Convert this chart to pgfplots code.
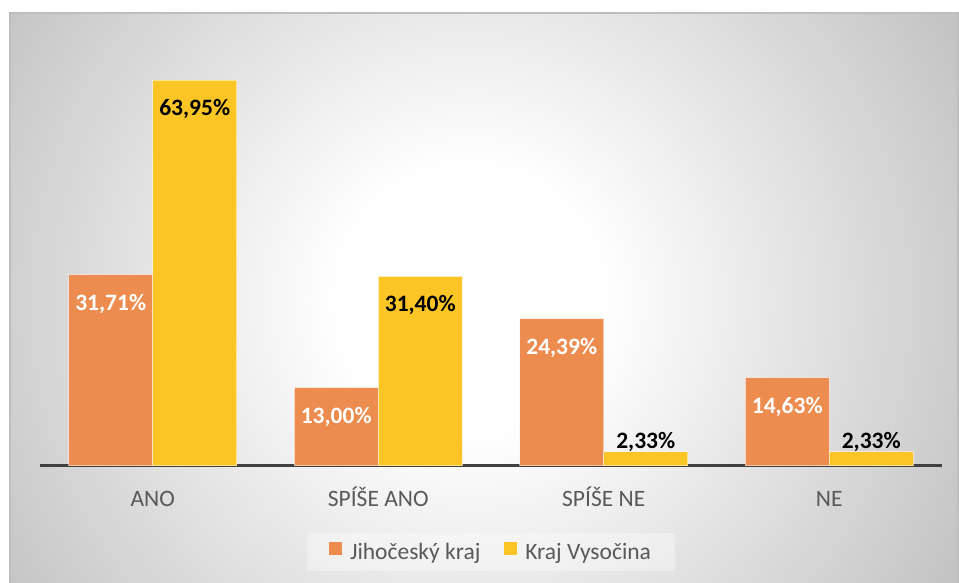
\documentclass[border=0pt]{standalone}
\usepackage{fontspec}
\setmainfont{Carlito}
\usepackage{pgfplots}
\usepackage{pgfplotstable}
\pgfplotsset{compat=1.18}

\definecolor{jcorange}{RGB}{236,140,79}
\definecolor{vysyellow}{RGB}{251,197,38}
\definecolor{txtgray}{RGB}{89,89,89}
\definecolor{axisgray}{RGB}{64,64,64}
\definecolor{bgedge}{RGB}{196,196,196}
\definecolor{bordergray}{RGB}{190,190,190}
\pgfdeclareradialshading{chartbg}{\pgfpoint{0bp}{0bp}}{color(0bp)=(white); color(5.5bp)=(white); color(23bp)=(bgedge); color(50bp)=(bgedge)}

% share of answers, %
\pgfplotstableread{
cat jc vys
0 31.71 63.95
1 13.00 31.40
2 24.39 2.33
3 14.63 2.33
}\datatable

\newcommand{\chartfont}{\fontsize{23.5}{28}\selectfont}

\begin{document}
\begin{tikzpicture}
\begin{scope}[x=1pt,y=1pt]
  \useasboundingbox (0,0) rectangle (959,583);
  \fill[white] (0,0) rectangle (959,583);
  \begin{scope}
    \clip (10,-2) rectangle (958,570);
    \shade[shading=chartbg] (470,283) circle (600);
  \end{scope}
  \draw[bordergray, line width=1.5pt] (10,-2) -- (10,570) -- (958,570) -- (958,-2);
\end{scope}
\begin{axis}[
  at={(40pt,117pt)}, anchor=south west,
  scale only axis, width=902pt, height=422.5pt,
  ybar=0pt, bar width=84pt,
  ymin=0, ymax=70, xmin=-0.5, xmax=3.5,
  xtick=data, xticklabels={ANO, SPÍŠE ANO, SPÍŠE NE, NE},
  major tick length=0pt,
  hide y axis,
  axis x line*=bottom,
  x axis line style={-, line width=3pt, axisgray},
  xticklabel style={font=\chartfont, text=txtgray, anchor=base, yshift=-41pt},
  nodes near coords={\pgfmathprintnumber[fixed,fixed zerofill,precision=2,use comma,assume math mode=true]{\pgfplotspointmeta}\%},
  nodes near coords style={font=\chartfont\bfseries, anchor=base},
  legend columns=-1,
  legend style={at={(0.5,-0.2036)}, anchor=center, draw=none, fill=white,
    fill opacity=0.35, text opacity=1,
    font=\chartfont, text=txtgray, inner xsep=22pt, inner ysep=8pt,
    /tikz/every even column/.append style={column sep=22pt}},
  legend image code/.code={\path[draw=none, fill=none] (0pt,-3pt) rectangle (19pt,10pt);
    \fill[#1, draw=none, fill opacity=1] (0pt,-3pt) rectangle (13pt,10pt);},
]
\addplot[fill=jcorange, draw=white, draw opacity=0.5, line width=1pt,
  every node near coord/.append style={text=white, yshift=-35.5pt}]
  table[x=cat, y=jc] {\datatable};
\addlegendentry{Jihočeský kraj}
\addplot[fill=vysyellow, draw=white, draw opacity=0.5, line width=1pt,
  visualization depends on={ifthenelse(\thisrow{vys}>10,-35.5,3.5) \as \lblshift},
  every node near coord/.append style={text=black, yshift=\lblshift pt}]
  table[x=cat, y=vys] {\datatable};
\addlegendentry{Kraj Vysočina}
\end{axis}
\end{tikzpicture}
\end{document}
